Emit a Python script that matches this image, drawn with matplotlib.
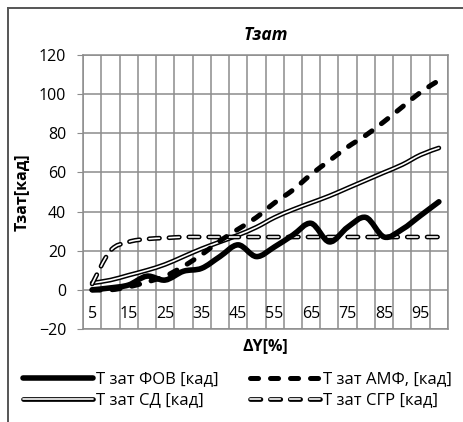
import matplotlib
matplotlib.use("Agg")
import matplotlib.pyplot as plt
from matplotlib.path import Path
from matplotlib.patches import PathPatch
from matplotlib.lines import Line2D

plt.rcParams['font.family'] = ['Open Sans', 'DejaVu Sans']
plt.rcParams['lines.scale_dashes'] = False

# === Data ===
categories = [5, 10, 15, 20, 25, 30, 35, 40, 45, 50, 55, 60, 65, 70, 75, 80, 85, 90, 95, 100]
t_fov = [0, 1, 2.5, 7, 5, 9.5, 11, 17, 23, 17, 22, 28, 34, 24.5, 32, 37, 27, 31, 38, 45]
t_amf = [0, 0, 1.5, 4, 7, 12, 18, 25, 31, 37, 44.5, 51, 59, 66, 73, 79, 86, 93.5, 101, 107]
t_sd = [3.5, 5, 7.5, 10, 13, 17, 21, 24.5, 28, 32, 37, 41, 44.5, 48, 52, 56, 60, 64, 69, 72.5]
t_sgr = [3, 20, 24.5, 26, 26.5, 27, 27, 27, 27, 27, 27, 27, 27, 27, 27, 27, 27, 27, 27, 27]
labels = ["Т зат ФОВ [кад]", "Т зат АМФ, [кад]", "Т зат СД [кад]", "Т зат СГР [кад]"]


def smooth_path(ys):
    # Excel-like smoothed line: cubic bezier through the points
    xs = list(range(len(ys)))
    pts = list(zip(xs, ys))
    verts = [pts[0]]
    codes = [Path.MOVETO]
    n = len(pts)
    for i in range(n - 1):
        p0 = pts[i - 1] if i > 0 else pts[i]
        p1 = pts[i]
        p2 = pts[i + 1]
        p3 = pts[i + 2] if i + 2 < n else pts[i + 1]
        c1 = (p1[0] + (p2[0] - p0[0]) / 6, p1[1] + (p2[1] - p0[1]) / 6)
        c2 = (p2[0] - (p3[0] - p1[0]) / 6, p2[1] - (p3[1] - p1[1]) / 6)
        verts += [c1, c2, p2]
        codes += [Path.CURVE4] * 3
    return Path(verts, codes)


def add_curve(ax, ys, **kw):
    patch = PathPatch(smooth_path(ys), fill=False, capstyle='round', joinstyle='round', **kw)
    ax.add_patch(patch)


fig = plt.figure(figsize=(4.63, 4.22), dpi=100)
ax = fig.add_axes([83 / 463, 93 / 422, 365 / 463, 274 / 422])

grid_c = '#8c8c8c'
amf_dash = (0, (5.8, 8.6))
sgr_dash = (0, (7.5, 6.8))

add_curve(ax, t_sd, edgecolor='black', linewidth=3.4, zorder=3)
add_curve(ax, t_sd, edgecolor='white', linewidth=1.2, zorder=3.1)
add_curve(ax, t_sgr, edgecolor='black', linewidth=3.4, linestyle=sgr_dash, zorder=3.2)
add_curve(ax, t_sgr, edgecolor='white', linewidth=1.2, linestyle=sgr_dash, zorder=3.3)
add_curve(ax, t_amf, edgecolor='black', linewidth=3.6, linestyle=amf_dash, zorder=3.4)
add_curve(ax, t_fov, edgecolor='black', linewidth=4.0, zorder=3.5)

ax.set_xlim(-0.5, len(categories) - 0.5)
ax.set_ylim(-20, 120)
ax.set_yticks(range(-20, 121, 20))
ax.set_xticks([i - 0.5 for i in range(len(categories) + 1)])
ax.set_xticklabels([])
ax.tick_params(axis='x', length=0)
ax.tick_params(axis='y', length=4, color=grid_c, labelsize=11.5, pad=8)
ax.grid(True, color=grid_c, linewidth=1.1)
ax.set_axisbelow(True)
for s in ax.spines.values():
    s.set_color(grid_c)
    s.set_linewidth(1.1)

# category labels sit just under the zero line, every other category
for i, c in enumerate(categories):
    if i % 2 == 0:
        ax.text(i, -12.5, str(c), ha='center', va='center', fontsize=11.5)

ax.set_title("Тзат", fontsize=12.5, fontweight='bold', style='italic', pad=11)
ax.set_ylabel("Тзат[кад]", fontsize=11.5, fontweight='bold', labelpad=6)
ax.set_xlabel("ΔY[%]", fontsize=11.5, fontweight='bold', labelpad=3)

# legend
h_fov = Line2D([], [], color='black', linewidth=4.0, solid_capstyle='round')
h_amf = Line2D([], [], color='black', linewidth=3.6, linestyle=amf_dash, dash_capstyle='round')
h_sd = (Line2D([], [], color='black', linewidth=3.4, solid_capstyle='round'),
        Line2D([], [], color='white', linewidth=1.2, solid_capstyle='round'))
h_sgr = (Line2D([], [], color='black', linewidth=3.4, linestyle=sgr_dash, dash_capstyle='round'),
         Line2D([], [], color='white', linewidth=1.2, linestyle=sgr_dash, dash_capstyle='round'))
fig.legend([h_fov, h_sd, h_amf, h_sgr], [labels[0], labels[2], labels[1], labels[3]],
           ncol=2, loc='center left', bbox_to_anchor=(0.017, 0.076), frameon=False,
           fontsize=12, handlelength=4.2, handletextpad=0.2, columnspacing=1.85,
           labelspacing=0.3)

# chart area border (left and top visible)
fig.add_artist(Line2D([7.5 / 463, 7.5 / 463], [0, 1 - 7.5 / 422], color='#555555', linewidth=1.4))
fig.add_artist(Line2D([7.5 / 463, 1], [1 - 7.5 / 422, 1 - 7.5 / 422], color='#555555', linewidth=1.4))

fig.savefig("out.png", dpi=100)
